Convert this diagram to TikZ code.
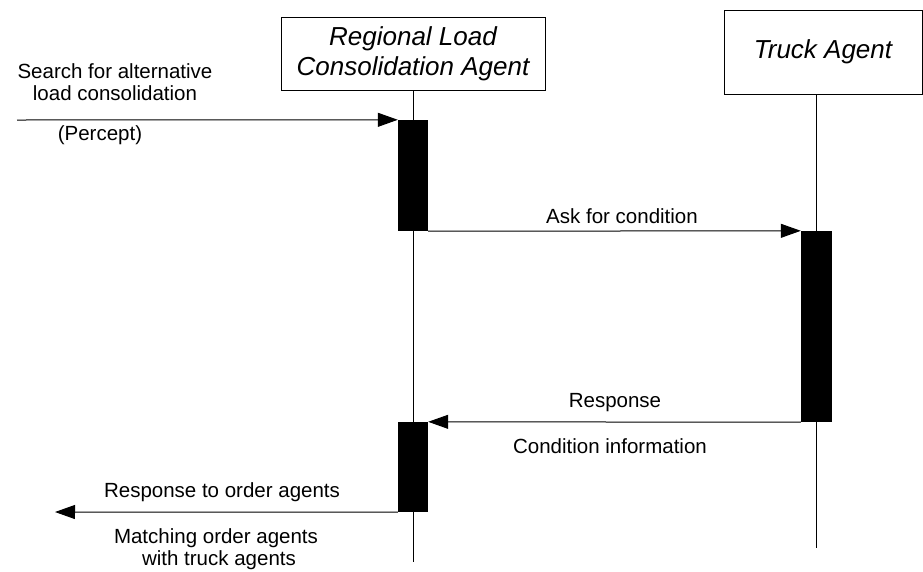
\documentclass[tikz,border=0pt]{standalone}
\usepackage{fontspec}
\setmainfont{Liberation Sans}
\usetikzlibrary{arrows.meta}
\begin{document}
\begin{tikzpicture}[x=1pt,y=-1pt,
  lbl/.style={font=\fontsize{20.5}{22}\selectfont, inner sep=0pt, anchor=base},
  agent/.style={draw, line width=1pt, font=\fontsize{26}{30}\selectfont\itshape,
    align=center, inner sep=0pt},
  life/.style={line width=1pt},
  act/.style={fill=black, draw=none, inner sep=0pt},
  msg/.style={line width=1pt, -{Triangle[length=20pt,width=14pt]}}]
\useasboundingbox (0,0) rectangle (923,571);

% agent heads
\node[agent, minimum width=264pt, minimum height=73pt] (rlca) at (413,53.5)
  {Regional Load\\Consolidation Agent};
\node[agent, minimum width=198pt, minimum height=84pt] (truck) at (823,52)
  {Truck Agent};

% lifelines
\coordinate (r-top) at (413,90);
\coordinate (r-end) at (413,562);
\coordinate (t-top) at (816,94);
\coordinate (t-end) at (816,548);
\draw[life] (r-top) -- (r-end);
\draw[life] (t-top) -- (t-end);

% activation bars
\node[act, minimum width=30pt, minimum height=111pt] (a1) at (413,175.5) {};
\node[act, minimum width=31pt, minimum height=191pt] (a2) at (816.5,326.5) {};
\node[act, minimum width=30pt, minimum height=90pt] (a3) at (413,467) {};

% free ends of the external messages
\coordinate (env-in) at (17,120);
\coordinate (env-out) at (55,512);

% messages
\draw[msg] (env-in) -- (a1.north west);
\draw[msg] (a1.south east) -- (a2.north west);
\draw[msg] (a2.south west) -- (a3.north east);
\draw[msg] (a3.south west) -- (env-out);

% message labels
\node[lbl] (s1) at (115,78) {Search for alternative};
\node[lbl] (s2) at (115,100) {load consolidation};
\node[lbl] (pc) at (100,140) {(Percept)};
\node[lbl] (ask) at (622,223) {Ask for condition};
\node[lbl] (resp) at (615,407) {Response};
\node[lbl] (cond) at (610,453) {Condition information};
\node[lbl] (rto) at (222,497) {Response to order agents};
\node[lbl] (m1) at (216,543) {Matching order agents};
\node[lbl] (m2) at (219,565) {with truck agents};
\end{tikzpicture}
\end{document}
